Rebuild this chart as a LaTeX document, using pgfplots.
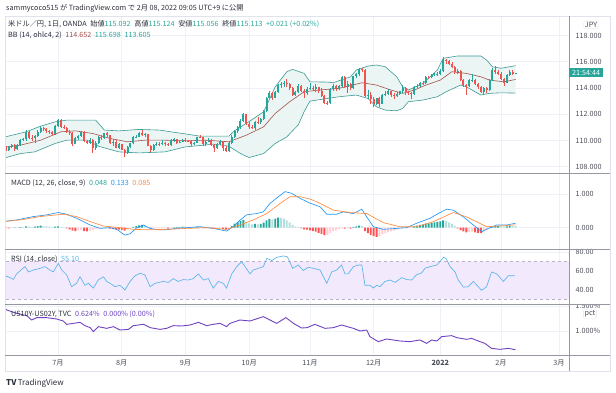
\documentclass[border=0pt]{standalone}
\usepackage{fontspec}
\setmainfont{Noto Sans CJK JP}
\usepackage{pgfplots}
\pgfplotsset{compat=1.18}
\usepackage{pgfplotstable}
\usepgfplotslibrary{fillbetween}

\definecolor{upc}{HTML}{26A69A}
\definecolor{dnc}{HTML}{EF5350}
\definecolor{bbline}{HTML}{3D9A94}
\definecolor{bbfill}{HTML}{EAF5F4}
\definecolor{basis}{HTML}{A5504B}
\definecolor{gridc}{HTML}{EEF1F7}
\definecolor{sepc}{HTML}{9598A1}
\definecolor{framec}{HTML}{E0E3EB}
\definecolor{txtc}{HTML}{2A2E39}
\definecolor{labc}{HTML}{4A4D57}
\definecolor{macdc}{HTML}{2196F3}
\definecolor{sigc}{HTML}{FF8A3D}
\definecolor{hdg}{HTML}{26A69A}
\definecolor{hlg}{HTML}{B2DFDB}
\definecolor{hdr}{HTML}{FF5252}
\definecolor{hlr}{HTML}{FFCDD2}
\definecolor{rsic}{HTML}{56B4E9}
\definecolor{rsibg}{HTML}{F3E9FC}
\definecolor{rsidash}{HTML}{B9AFC9}
\definecolor{usc}{HTML}{6F42C1}

\newcommand\tf{\fontsize{7.2}{8.5}\selectfont}

\pgfplotsset{
  tv/.style={
    scale only axis, width=563pt, anchor=south west,
    xmin=-17.96, xmax=176.45,
    axis line style={draw=none},
    major tick length=0pt,
    xtick={0,22,44,66,87,109,132,153,173},
    xticklabels={,,,,,,,,},
    xticklabel style={inner sep=0pt, outer sep=0pt},
    grid=major, major grid style={draw=gridc, line width=0.6pt},
    yticklabel pos=right,
    yticklabel style={anchor=west, font=\tf, text=labc, xshift=3pt},
    set layers,
  },
  candle/.style={line width=#1, forget plot},
}

\pgfplotstableread{
t o h l c
-19 109.48 109.62 109.30 109.50
-17 109.25 109.55 109.20 109.48
-16 109.48 109.70 109.40 109.62
-14 109.33 109.75 109.28 109.67
-13 109.67 110.12 109.60 110.06
-12 110.06 110.16 109.95 110.08
-11 110.08 110.80 109.95 110.68
-8 110.18 110.42 109.80 110.33
-7 110.33 110.80 110.25 110.65
-6 110.65 111.10 110.55 110.96
-1 110.51 111.15 110.45 111.10
0 111.10 111.66 111.00 111.53
6 109.76 110.25 109.70 110.15
7 110.15 110.45 110.05 110.36
8 110.36 110.70 110.30 110.62
11 109.83 110.15 109.75 110.07
13 109.46 109.95 109.30 109.83
14 109.83 110.35 109.75 110.27
16 110.15 110.60 110.10 110.54
19 109.77 110.10 109.60 109.92
21 109.46 109.80 109.35 109.71
24 109.04 109.55 108.95 109.47
25 109.47 109.82 109.40 109.77
26 109.77 110.35 109.70 110.23
27 110.23 110.40 110.15 110.28
28 110.28 110.62 110.25 110.58
30 110.42 110.55 110.30 110.46
33 109.24 109.70 109.20 109.62
34 109.62 109.85 109.55 109.76
36 109.72 110.00 109.65 109.78
39 109.66 110.10 109.60 110.05
40 110.05 110.20 109.90 110.08
42 109.84 110.00 109.80 109.92
43 109.92 110.10 109.85 110.02
47 109.71 109.90 109.65 109.84
48 109.84 110.30 109.80 110.26
51 109.73 110.00 109.60 109.91
52 109.91 110.15 109.85 110.03
55 109.39 109.80 109.35 109.71
56 109.71 110.00 109.65 109.93
59 109.23 109.90 109.15 109.78
60 109.78 110.40 109.70 110.30
61 110.30 110.80 110.20 110.74
62 110.74 111.10 110.60 110.99
63 110.99 111.65 110.90 111.50
64 111.50 112.08 111.40 111.98
68 110.93 111.50 110.80 111.43
70 111.40 111.70 111.25 111.60
71 111.60 112.35 111.55 112.24
72 112.24 113.30 112.15 113.24
73 113.24 113.80 113.20 113.60
75 113.26 113.80 113.20 113.70
76 113.70 114.30 113.65 114.22
77 114.22 114.45 114.00 114.32
78 114.32 114.50 114.05 114.37
82 113.48 113.80 113.40 113.68
83 113.68 114.30 113.60 114.14
86 113.58 114.05 113.45 113.94
87 113.94 114.40 113.85 114.00
89 113.95 114.30 113.70 114.04
94 112.85 114.00 112.80 113.90
95 113.90 114.30 113.80 114.16
97 113.92 114.20 113.85 114.13
98 114.13 114.95 114.05 114.83
100 114.11 114.50 113.60 114.28
102 114.00 114.95 113.90 114.90
103 114.90 115.15 114.75 115.06
104 115.06 115.50 114.95 115.43
107 113.38 113.85 113.15 113.46
110 112.80 113.25 112.70 113.20
112 112.80 113.55 112.75 113.46
113 113.46 113.80 113.40 113.54
114 113.54 113.95 113.45 113.74
117 113.37 113.70 113.30 113.56
118 113.56 113.80 113.50 113.74
119 113.74 114.25 113.60 114.00
123 113.55 114.15 113.50 114.08
124 114.08 114.30 113.95 114.15
125 114.15 114.45 114.05 114.40
127 114.35 114.90 114.30 114.84
129 114.80 115.05 114.75 114.97
130 114.97 115.15 114.90 115.07
131 115.07 115.20 114.95 115.10
132 115.10 115.42 115.00 115.30
133 115.30 116.35 115.25 116.12
138 115.20 115.45 115.10 115.27
142 114.15 114.65 114.10 114.60
143 114.60 115.05 114.45 114.62
147 113.70 114.05 113.45 113.97
149 113.88 114.70 113.80 114.60
150 114.60 115.50 114.50 115.35
155 114.40 115.05 114.35 114.97
156 114.97 115.40 114.90 115.23
158 115.092 115.124 115.056 115.113
}\tabup

\pgfplotstableread{
t o h l c
-18 109.50 109.58 109.18 109.25
-15 109.62 109.72 109.20 109.33
-10 110.68 110.72 110.10 110.22
-9 110.22 110.38 109.95 110.18
-5 110.96 111.00 110.70 110.88
-4 110.88 110.95 110.60 110.75
-3 110.75 110.82 110.50 110.62
-2 110.62 110.70 110.40 110.51
1 111.53 111.62 110.95 111.06
2 111.06 111.15 110.85 110.97
3 110.97 111.05 110.55 110.63
4 110.63 110.80 110.45 110.58
5 110.58 110.65 109.55 109.76
9 110.62 110.70 109.90 109.97
10 109.97 110.05 109.70 109.83
12 110.07 110.10 109.07 109.46
15 110.27 110.40 110.05 110.15
17 110.54 110.65 110.30 110.39
18 110.39 110.45 109.70 109.77
20 109.92 110.00 109.40 109.46
22 109.71 109.75 109.25 109.31
23 109.31 109.38 108.72 109.04
29 110.58 110.80 110.35 110.42
31 110.46 110.50 109.55 109.59
32 109.59 109.65 109.10 109.24
35 109.76 109.90 109.60 109.72
37 109.78 109.85 109.55 109.72
38 109.72 109.80 109.55 109.66
41 110.08 110.12 109.75 109.84
44 110.02 110.15 109.90 109.97
45 109.97 110.05 109.85 109.93
46 109.93 110.00 109.60 109.71
49 110.26 110.45 110.15 110.24
50 110.24 110.30 109.60 109.73
53 110.03 110.10 109.60 109.68
54 109.68 109.75 109.15 109.39
57 109.93 109.95 109.20 109.42
58 109.42 109.55 109.10 109.23
65 111.98 112.05 111.20 111.29
66 111.29 111.40 110.90 111.05
67 111.05 111.20 110.85 110.93
69 111.43 111.80 111.25 111.40
74 113.60 113.70 113.10 113.26
79 114.37 114.70 114.10 114.28
80 114.28 114.35 113.85 114.00
81 114.00 114.10 113.40 113.48
84 114.14 114.20 113.70 113.80
85 113.80 113.90 113.25 113.58
88 114.00 114.15 113.80 113.95
90 114.04 114.10 113.65 113.75
91 113.75 114.00 113.30 113.40
92 113.40 113.50 112.80 112.89
93 112.89 113.00 112.72 112.85
96 114.16 114.20 113.80 113.92
99 114.83 114.90 114.00 114.11
101 114.28 114.40 113.85 114.00
105 115.43 115.55 115.25 115.36
106 115.36 115.45 113.30 113.38
108 113.46 113.70 112.75 113.16
109 113.16 113.30 112.55 112.80
111 113.20 113.30 112.55 112.80
115 113.74 113.80 113.35 113.48
116 113.48 113.60 113.15 113.37
120 114.00 114.10 113.45 113.70
121 113.70 113.80 113.50 113.64
122 113.64 113.70 113.15 113.55
126 114.40 114.50 114.25 114.35
128 114.84 114.95 114.65 114.80
134 116.12 116.20 115.85 116.08
135 116.08 116.15 115.75 115.83
136 115.83 116.00 115.50 115.57
137 115.57 115.65 115.05 115.20
139 115.27 115.35 114.55 114.60
140 114.60 114.70 114.10 114.20
141 114.20 114.30 113.48 114.15
144 114.62 114.70 114.20 114.30
145 114.30 114.40 113.95 114.10
146 114.10 114.15 113.65 113.70
148 113.97 114.10 113.60 113.88
151 115.35 115.65 115.10 115.25
152 115.25 115.35 115.00 115.10
153 115.10 115.20 114.60 114.70
154 114.70 114.75 114.15 114.40
157 115.23 115.38 115.00 115.09
}\tabdn

\begin{document}
\begin{tikzpicture}[x=1pt,y=1pt]
\path (0,0) rectangle (616,393);

% ---------- price pane ----------
\begin{axis}[tv, at={(6pt,220pt)}, height=156pt,
  ymin=107.52, ymax=119.41,
  ytick={108,110,112,114,116,118},
  yticklabels={108.000,110.000,112.000,114.000,116.000,118.000}]
\addplot[name path=bbu, bbline, line width=0.6pt] coordinates {
(-19,110.23) (-11,110.66) (-6,111.09) (-1,111.42) (3,111.55) (13,111.55) (16,110.79) (21,110.73) (28,110.84) (35,110.79) (43,110.53) (49,110.33) (59,110.33) (61,110.75) (65,111.30) (71,112.18) (75,114.09) (79,115.24) (81,115.42) (85,115.11) (87,114.47) (93,114.45) (95,114.40) (101,114.85) (103,115.37) (107,115.67) (110,115.75) (113,115.62) (117,114.85) (119,114.09) (121,113.84) (126,114.35) (131,115.37) (133,116.26) (138,116.44) (146,116.44) (148,116.13) (150,115.62) (153,115.50) (158,115.70)};
\addplot[name path=bbl, bbline, line width=0.6pt] coordinates {
(-19,108.63) (-13,109.00) (-8,109.13) (-1,109.77) (3,110.02) (10,110.02) (14,109.56) (21,109.13) (28,109.05) (37,109.13) (44,109.51) (54,109.72) (59,109.56) (63,109.00) (66,108.70) (71,109.00) (75,109.77) (79,110.27) (83,111.20) (85,112.20) (87,113.00) (93,113.20) (97,113.33) (103,113.46) (107,113.20) (110,112.56) (113,112.31) (117,112.26) (119,112.44) (121,112.95) (126,113.08) (131,113.33) (134,113.71) (139,114.22) (141,114.09) (146,113.46) (149,113.59) (153,113.63) (158,113.61)};
\addplot[bbfill] fill between[of=bbu and bbl];
\addplot[basis, line width=0.6pt] coordinates {
(-19,109.47) (-13,109.64) (-6,110.02) (1,110.66) (6,110.73) (12,110.53) (18,110.15) (24,109.90) (30,110.02) (37,110.02) (44,109.97) (51,110.02) (59,109.90) (65,110.40) (71,111.04) (75,112.06) (80,112.95) (85,113.71) (90,113.84) (97,113.97) (105,114.40) (110,114.22) (115,113.84) (119,113.59) (123,113.84) (127,114.22) (132,114.60) (136,115.24) (141,115.11) (146,114.85) (149,114.60) (154,114.47) (158,114.65)};
% wicks
\addplot[upc, candle=0.6pt, quiver={u=0, v=\thisrow{h}-\thisrow{l}}] table[x=t, y=l] \tabup;
\addplot[dnc, candle=0.6pt, quiver={u=0, v=\thisrow{h}-\thisrow{l}}] table[x=t, y=l] \tabdn;
% bodies
\addplot[upc, candle=2pt, quiver={u=0, v=\thisrow{c}-\thisrow{o}}] table[x=t, y=o] \tabup;
\addplot[dnc, candle=2pt, quiver={u=0, v=\thisrow{o}-\thisrow{c}}] table[x=t, y=c] \tabdn;
\end{axis}

% ---------- MACD pane ----------
\begin{axis}[tv, at={(6pt,144pt)}, height=76pt,
  ymin=-0.632, ymax=1.623, ytick={0,1}, yticklabels={0.000,1.000}]
\addplot[ybar, bar width=1.9pt, bar shift=0pt, fill=hdg, draw=none] coordinates {
(-15,0.01) (-13,0.02) (-11,0.04) (-8,0.03) (-7,0.05) (-6,0.06) (-1,0.03) (0,0.04) (16,0.01) (26,0.02) (27,0.05) (28,0.07) (29,0.08) (40,0.01) (41,0.02) (42,0.02) (43,0.03) (47,0.01) (48,0.03) (60,0.05) (61,0.12) (62,0.16) (63,0.2) (64,0.23) (68,0.11) (70,0.11) (71,0.15) (72,0.22) (73,0.26) (75,0.27) (76,0.3) (102,0.02) (103,0.04) (104,0.06) (119,0.01) (123,0.04) (124,0.06) (125,0.08) (126,0.09) (127,0.12) (128,0.13) (129,0.15) (130,0.16) (131,0.17) (132,0.19) (133,0.22) (150,0.02) (151,0.04) (152,0.05) (155,0.04) (156,0.05)};
\addplot[ybar, bar width=1.9pt, bar shift=0pt, fill=hlg, draw=none] coordinates {
(-19,0.01) (-14,0.01) (-12,0.02) (-10,0.03) (-9,0.02) (-5,0.05) (-4,0.04) (-3,0.03) (-2,0.02) (1,0.02) (2,0.01) (30,0.06) (31,0.01) (44,0.03) (45,0.02) (49,0.03) (65,0.18) (66,0.13) (67,0.1) (69,0.1) (74,0.25) (77,0.29) (78,0.27) (79,0.22) (80,0.16) (81,0.08) (82,0.04) (83,0.02) (105,0.05) (120,0.01) (121,0.01) (122,0.01) (134,0.2) (135,0.16) (136,0.12) (137,0.06) (153,0.04) (154,0.03) (157,0.05) (158,0.048)};
\addplot[ybar, bar width=1.9pt, bar shift=0pt, fill=hdr, draw=none] coordinates {
(-18,-0.01) (-17,-0.02) (3,-0.02) (4,-0.05) (5,-0.09) (6,-0.10) (9,-0.10) (10,-0.11) (17,-0.01) (18,-0.03) (19,-0.04) (20,-0.05) (21,-0.06) (22,-0.07) (23,-0.09) (32,-0.03) (38,-0.03) (46,-0.01) (50,-0.01) (53,-0.02) (54,-0.03) (57,-0.04) (58,-0.05) (84,-0.02) (85,-0.05) (86,-0.06) (87,-0.08) (88,-0.1) (89,-0.12) (90,-0.15) (91,-0.18) (92,-0.22) (99,-0.03) (101,-0.03) (106,-0.1) (107,-0.16) (108,-0.22) (109,-0.25) (110,-0.27) (138,-0.02) (139,-0.07) (140,-0.11) (141,-0.14) (144,-0.14) (145,-0.15) (146,-0.16)};
\addplot[ybar, bar width=1.9pt, bar shift=0pt, fill=hlr, draw=none] coordinates {
(-16,-0.01) (7,-0.08) (8,-0.07) (11,-0.09) (12,-0.07) (13,-0.05) (14,-0.03) (15,-0.02) (24,-0.06) (25,-0.03) (33,-0.02) (34,-0.02) (35,-0.02) (36,-0.02) (37,-0.02) (39,-0.01) (51,-0.01) (52,-0.01) (55,-0.02) (56,-0.02) (59,-0.02) (93,-0.21) (94,-0.15) (95,-0.1) (96,-0.08) (97,-0.05) (98,-0.02) (100,-0.02) (111,-0.24) (112,-0.2) (113,-0.17) (114,-0.13) (115,-0.11) (116,-0.09) (117,-0.06) (118,-0.03) (142,-0.13) (143,-0.12) (147,-0.12) (148,-0.08) (149,-0.03)};
\addplot[macdc, line width=0.65pt] coordinates {
(-19,0.18) (-14.3,0.23) (-8.5,0.33) (-3.9,0.38) (0.1,0.45) (3.0,0.40) (6.4,0.28) (11.1,0.08) (14.5,-0.02) (18.0,0.0) (20.3,-0.05) (23.1,-0.22) (24.9,-0.18) (27.2,0.0) (29.5,0.08) (31.8,-0.02) (34.1,-0.06) (37.5,-0.06) (41.0,-0.02) (44.4,0.0) (49.0,0.03) (53.6,-0.02) (58.2,-0.1) (60.5,0.03) (62.8,0.22) (65.1,0.38) (68.6,0.42) (70.9,0.47) (73.2,0.72) (76.1,0.92) (78.4,1.07) (80.7,1.02) (83.6,0.87) (87.0,0.73) (90.5,0.62) (92.8,0.40) (96.2,0.40) (98.5,0.47) (102.0,0.42) (104.9,0.55) (106.6,0.32) (108.9,0.03) (112.3,-0.05) (116.9,-0.02) (120.4,0.0) (123.8,0.13) (128.5,0.28) (131.9,0.45) (134.2,0.55) (136.5,0.52) (140.0,0.32) (143.4,0.08) (146.3,-0.12) (148.6,-0.02) (151.5,0.08) (155.0,0.08) (158,0.133)};
\addplot[sigc, line width=0.65pt] coordinates {
(-19,0.18) (-13.1,0.23) (-6.2,0.33) (1.8,0.40) (6.4,0.33) (11.1,0.18) (15.7,0.05) (21.4,0.0) (26.0,-0.05) (30.6,-0.06) (37.5,-0.05) (44.4,-0.02) (51.3,0.0) (58.2,-0.05) (62.8,0.08) (67.4,0.23) (72.1,0.42) (76.7,0.72) (80.1,0.92) (83.6,0.92) (87.0,0.85) (89.3,0.77) (95.1,0.52) (100.8,0.45) (106.6,0.42) (112.3,0.15) (118.1,0.03) (123.8,0.03) (129.6,0.18) (136.5,0.45) (141.1,0.32) (148.0,0.03) (152.6,0.05) (158,0.085)};
\end{axis}

% ---------- RSI pane ----------
\begin{axis}[tv, at={(6pt,89pt)}, height=55pt,
  ymin=25.26, ymax=83.16, ytick={40,60,80}, yticklabels={40.00,60.00,80.00}]
\addplot[draw=none, fill=rsibg, on layer=pre main] coordinates {(-17.96,30) (176.45,30) (176.45,70) (-17.96,70)} \closedcycle;
\addplot[rsidash, dashed, line width=0.5pt] coordinates {(-17.96,70) (176.45,70)};
\addplot[rsidash, dashed, line width=0.5pt] coordinates {(-17.96,30) (176.45,30)};
\addplot[rsic, line width=0.65pt] coordinates {
(-19,51.5) (-17.7,54.7) (-15.4,51.2) (-14.3,57) (-11.4,64.6) (-10.2,59) (-8.5,61) (-6.2,62.8) (-4.5,64.6) (-2.8,61) (-1.6,59) (0.1,68) (1.3,61) (3.0,55.8) (4.7,43.5) (6.4,47) (7.6,54) (9.3,45) (10.5,47) (12.2,42) (13.9,50.5) (15.7,54) (16.8,49) (18.0,47) (19.7,43.5) (21.4,45) (23.1,40) (24.9,49) (26.6,55) (28.3,57.5) (30.0,56) (31.8,43.5) (33.5,47) (36.4,49) (38.1,48) (39.8,52) (41.5,49) (43.3,51) (45.0,50.5) (46.7,52) (48.5,57) (50.2,50.5) (51.9,52) (53.6,42) (55.4,49) (57.1,47) (58.2,42) (60.0,57) (61.7,64.6) (63.4,69.8) (64.6,64.6) (66.3,57) (67.4,61) (69.2,62.8) (70.9,64.6) (72.1,73.3) (73.8,71) (75.5,74.4) (77.8,75.8) (79.2,75) (81.0,62.8) (83.0,66.3) (84.7,60.5) (86.4,64) (88.2,62.8) (90.5,61) (92.8,47) (94.5,59) (96.2,61) (97.9,66.3) (99.1,57) (100.2,57) (102.0,64.6) (103.7,66.3) (104.9,66.3) (106.0,45) (107.7,45) (108.9,42) (110.0,45) (111.2,43.5) (112.9,49) (114.6,50.5) (116.4,48) (118.7,53) (120.4,51) (122.1,50.5) (123.8,56) (125.6,58) (126.7,62.8) (128.5,64.6) (130.8,66.3) (131.9,69.8) (133.1,74.4) (134.0,73.3) (135.4,64.6) (137.1,59) (138.2,50.5) (140.0,43) (141.7,43.5) (143.4,49) (145.1,43.5) (146.3,39.6) (148.0,43.5) (149.7,59) (151.5,57) (153.8,49) (155.5,55) (157.8,55.1)};
\end{axis}

% ---------- US10Y-US02Y pane ----------
\begin{axis}[tv, at={(6pt,38pt)}, height=51pt,
  ymin=0.52, ymax=1.54, ytick={1.0,1.5}, yticklabels={1.000\%,1.500\%},
  xticklabels={7月,8月,9月,10月,11月,12月,\textbf{2022},2月,3月},
  xticklabel style={font=\tf, text=labc, anchor=center, yshift=-8pt, inner sep=1pt}]
\addplot[usc, line width=0.9pt] coordinates {
(-18,1.44) (-17.7,1.42) (-14.3,1.353) (-10.8,1.307) (-9.1,1.22) (-7.4,1.267) (-3.9,1.267) (-0.5,1.24) (1.8,1.20) (3.0,1.133) (5.3,1.153) (7.6,1.173) (9.3,1.107) (11.1,1.067) (12.2,0.987) (13.9,1.087) (16.8,1.053) (19.1,1.087) (21.4,1.02) (24.3,1.033) (26.0,1.107) (29.5,1.133) (31.8,1.067) (35.2,1.033) (37.5,1.053) (39.8,1.107) (42.7,1.10) (45.6,1.12) (48.5,1.173) (51.3,1.107) (53.6,1.133) (56.0,1.153) (58.2,1.087) (59.4,1.153) (62.8,1.22) (66.3,1.20) (70.9,1.287) (73.2,1.22) (75.5,1.153) (78.7,1.267) (81.3,1.153) (84.1,1.06) (86.0,1.067) (88.7,1.133) (92.2,1.053) (95.1,1.067) (97.9,1.12) (102.0,1.053) (104.3,1.00) (106.6,1.02) (107.7,0.887) (110.6,0.787) (113.5,0.84) (115.8,0.82) (118.1,0.80) (121.5,0.787) (125.0,0.82) (127.3,0.753) (129.0,0.82) (130.8,0.80) (132.5,0.887) (135.9,0.907) (137.7,0.867) (141.1,0.833) (142.8,0.853) (145.7,0.787) (147.4,0.753) (149.7,0.653) (152.6,0.633) (155.5,0.653) (157.2,0.633) (158,0.624)};
\end{axis}

% ---------- frame and separators ----------
\fill[white] (570,88.5) rectangle (609,95.5);
\draw[framec, line width=0.5pt] (5,22) rectangle (610,377);
\draw[sepc, line width=0.7pt] (5,220) -- (610,220);
\draw[sepc, line width=0.7pt] (5,144) -- (610,144);
\draw[sepc, line width=0.7pt] (5,89) -- (610,89);
\draw[sepc, line width=0.7pt] (5,38) -- (610,38);
\draw[sepc, line width=0.7pt] (569,22) -- (569,377);

% ---------- right scale boxes ----------
\node[draw=framec, rounded corners=1.5pt, inner sep=1.2pt, font=\tf, text=labc] at (591,368) {JPY};
\node[fill=upc, inner sep=0pt, minimum width=34pt, minimum height=9pt, font=\tf, text=white, anchor=west] at (569,320.5) {21:54:44};
\node[draw=framec, rounded corners=1.5pt, inner sep=1.2pt, font=\tf, text=labc] at (590,79) {pct};

% ---------- texts ----------
\node[anchor=west, font=\tf, text=txtc, inner sep=0pt] at (6,385) {sammycoco515 が TradingView.com で 2月 08, 2022 09:05 UTC+9 に公開};
\node[anchor=west, font=\tf, text=txtc, inner sep=0pt] at (8,369) {米ドル／円, 1日, OANDA\enspace 始値\textcolor{upc}{115.092}\enspace 高値\textcolor{upc}{115.124}\enspace 安値\textcolor{upc}{115.056}\enspace 終値\textcolor{upc}{115.113}\enspace\textcolor{upc}{+0.021 (+0.02\%)}};
\node[anchor=west, font=\tf, text=txtc, inner sep=0pt] at (8,358) {BB (14, ohlc4, 2)\enspace\textcolor{basis}{114.652}\enspace\textcolor{upc}{115.698}\enspace\textcolor{upc}{113.605}};
\node[anchor=west, font=\tf, text=txtc, inner sep=0pt] at (11,210) {MACD (12, 26, close, 9)\enspace\textcolor{upc}{0.048}\enspace\textcolor{macdc}{0.133}\enspace\textcolor{sigc}{0.085}};
\node[anchor=west, font=\tf, text=txtc, inner sep=0pt] at (11,134) {RSI (14, close)\enspace\textcolor{rsic}{55.10}};
\node[anchor=west, font=\tf, text=txtc, inner sep=0pt] at (11,79) {US10Y-US02Y, TVC\enspace\textcolor{usc}{0.624\%}\enspace\textcolor{usc}{0.000\% (0.00\%)}};
\node[anchor=west, font=\fontsize{8}{9}\selectfont, text=txtc, inner sep=0pt] at (6,10) {\textbf{TV}\,TradingView};
\end{tikzpicture}
\end{document}
